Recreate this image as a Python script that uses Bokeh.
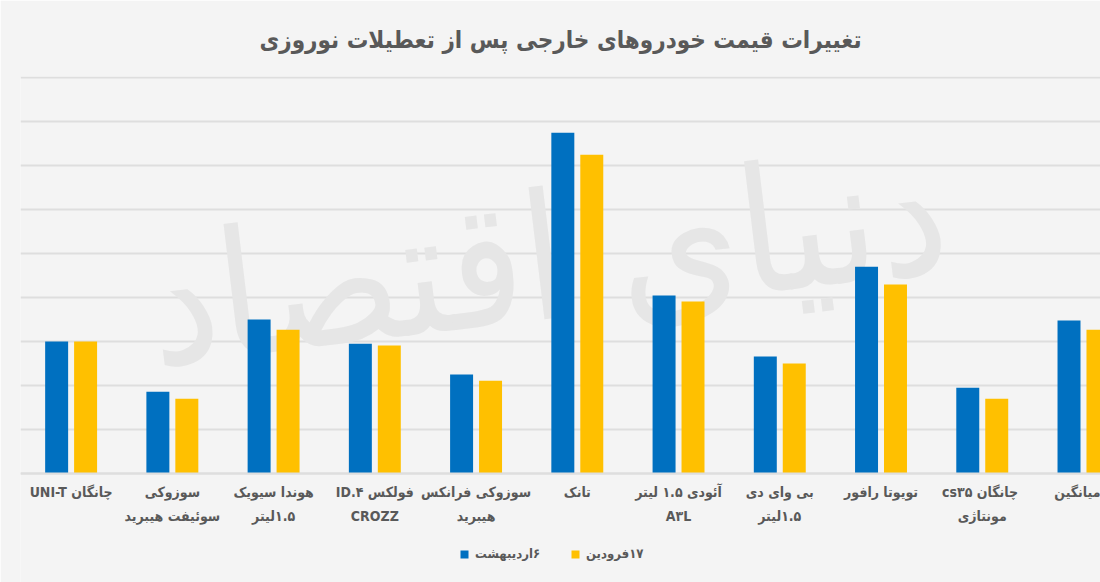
from bokeh.plotting import figure
from bokeh.models import Range1d, FixedTicker, Legend, LegendItem, ColumnDataSource, Label
from bokeh.transform import dodge
from bokeh.embed import file_html
from bokeh.resources import INLINE

title_text = "تغییرات قیمت خودروهای خارجی پس از تعطیلات نوروزی"
categories = [
    "چانگان UNI-T",
    "سوزوکی\nسوئیفت هیبرید",
    "هوندا سیویک\n۱.۵لیتر",
    "فولکس ID.۴\nCROZZ",
    "سوزوکی فرانکس\nهیبرید",
    "تانک",
    "آئودی ۱.۵ لیتر\nA۳L",
    "بی وای دی\n۱.۵لیتر",
    "تویوتا رافور",
    "چانگان  cs۳۵\nمونتاژی",
    "میانگین",
]
series_names = ["۶اردیبهشت", "۱۷فرودین"]
ordibehesht_6 = [3.00, 1.86, 3.50, 2.95, 2.25, 7.75, 4.05, 2.66, 4.70, 1.95, 3.48]
farvardin_17 = [3.00, 1.70, 3.27, 2.91, 2.11, 7.25, 3.91, 2.50, 4.30, 1.70, 3.27]
y_ticks = [0, 1, 2, 3, 4, 5, 6, 7, 8, 9]
watermark = "دنیای اقتصاد"

BG = "#f4f4f4"
TXT = "#595959"
FONT = "DejaVu Sans Condensed"


def rtl(s):
    return "\n".join("\u202b" + line + "\u202c" for line in s.split("\n"))


idx = list(range(len(categories)))
src = ColumnDataSource(dict(x=idx, a=ordibehesht_6, b=farvardin_17))

p = figure(frame_width=1080, frame_height=506, output_backend="svg", toolbar_location=None,
           x_range=Range1d(-0.5, 10.168), y_range=Range1d(-2.48, 9.03),
           background_fill_color=BG, border_fill_color=BG,
           min_border_left=20, min_border_right=0, min_border_top=76, min_border_bottom=0)
p.outline_line_color = None

p.title.text = title_text
p.title.align = "center"
p.title.offset = -10
p.title.text_font = FONT
p.title.text_font_size = "24px"
p.title.text_font_style = "bold"
p.title.text_color = TXT
p.title.standoff = 45

wm = Label(x=4.7, y=4.9, text=watermark, text_font_size="175px", text_font=FONT,
           text_color="#e6e6e6", text_align="center", angle=0.12,
           text_baseline="middle", level="underlay")
p.add_layout(wm)

r1 = p.vbar(x=dodge("x", -0.143, range=p.x_range), top="a", width=0.227, source=src,
            fill_color="#0070C0", line_color=None)
r2 = p.vbar(x=dodge("x", 0.143, range=p.x_range), top="b", width=0.227, source=src,
            fill_color="#FFC000", line_color=None)

p.yaxis.visible = False
p.yaxis.ticker = FixedTicker(ticks=y_ticks)
p.ygrid.ticker = FixedTicker(ticks=y_ticks)
p.ygrid.grid_line_color = "#dedede"
p.ygrid.grid_line_width = 2
p.xgrid.grid_line_color = None

xa = p.xaxis[0]
xa.fixed_location = 0
xa.ticker = FixedTicker(ticks=idx)
xa.major_label_overrides = {i: rtl(c) for i, c in zip(idx, categories)}
xa.major_tick_line_color = None
xa.minor_tick_line_color = None
xa.axis_line_color = "#dedede"
xa.axis_line_width = 2
xa.major_label_text_font = FONT
xa.major_label_text_font_size = "14px"
xa.major_label_text_font_style = "bold"
xa.major_label_text_color = TXT
xa.major_label_text_line_height = 1.45
xa.major_label_standoff = 5

legend = Legend(items=[LegendItem(label=rtl(series_names[0]), renderers=[r1]),
                       LegendItem(label=rtl(series_names[1]), renderers=[r2])],
                orientation="horizontal", location=(439, 21),
                background_fill_alpha=0, border_line_color=None,
                label_text_font=FONT, label_text_font_size="13px",
                label_text_font_style="bold", label_text_color=TXT,
                glyph_width=10, glyph_height=10, label_standoff=6,
                spacing=30, margin=0, padding=4)
p.add_layout(legend, "center")

open("out.html", "w").write(file_html(p, INLINE))
